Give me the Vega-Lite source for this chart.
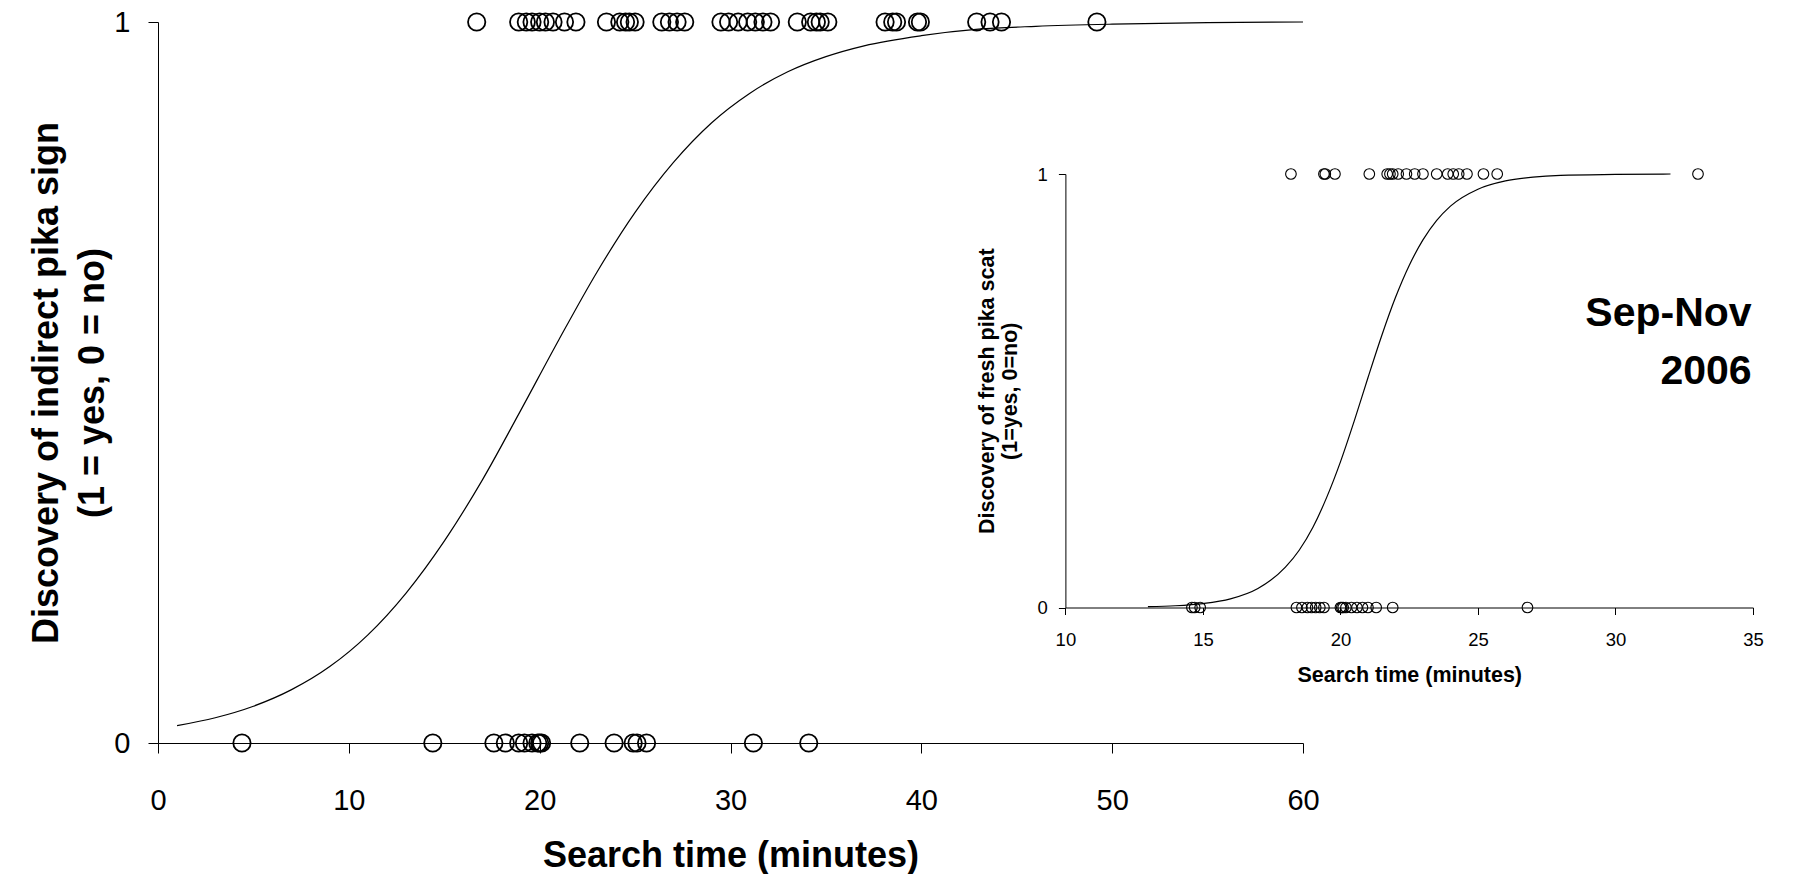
{
  "$schema": "https://vega.github.io/schema/vega-lite/v6.json",
  "width": 1806,
  "height": 874,
  "autosize": {"type": "none"},
  "padding": 0,
  "background": "white",
  "config": {
    "view": {"stroke": null},
    "font": "Liberation Sans",
    "axis": {"grid": false, "domainColor": "#000000", "tickColor": "#000000", "labelColor": "#000000", "titleColor": "#000000", "labelFont": "Liberation Sans", "titleFont": "Liberation Sans", "domainWidth": 1, "tickWidth": 1, "format": "d"}
  },
  "layer": [
    {
      "layer": [
        {
          "data": {"values": [
            {"t": 16.7, "found": 1}, {"t": 18.9, "found": 1}, {"t": 19.3, "found": 1}, {"t": 19.6, "found": 1}, {"t": 20.0, "found": 1}, {"t": 20.3, "found": 1}, {"t": 20.7, "found": 1}, {"t": 21.3, "found": 1}, {"t": 21.9, "found": 1}, {"t": 23.5, "found": 1}, {"t": 24.2, "found": 1}, {"t": 24.5, "found": 1}, {"t": 24.7, "found": 1}, {"t": 25.0, "found": 1}, {"t": 26.4, "found": 1}, {"t": 26.8, "found": 1}, {"t": 27.2, "found": 1}, {"t": 27.6, "found": 1}, {"t": 29.5, "found": 1}, {"t": 29.9, "found": 1}, {"t": 30.4, "found": 1}, {"t": 30.9, "found": 1}, {"t": 31.3, "found": 1}, {"t": 31.7, "found": 1}, {"t": 32.1, "found": 1}, {"t": 33.5, "found": 1}, {"t": 34.2, "found": 1}, {"t": 34.5, "found": 1}, {"t": 34.7, "found": 1}, {"t": 35.1, "found": 1}, {"t": 38.1, "found": 1}, {"t": 38.5, "found": 1}, {"t": 38.7, "found": 1}, {"t": 39.8, "found": 1}, {"t": 39.95, "found": 1}, {"t": 42.9, "found": 1}, {"t": 43.6, "found": 1}, {"t": 44.2, "found": 1}, {"t": 49.2, "found": 1},
            {"t": 4.4, "found": 0}, {"t": 14.4, "found": 0}, {"t": 17.6, "found": 0}, {"t": 18.2, "found": 0}, {"t": 18.9, "found": 0}, {"t": 19.2, "found": 0}, {"t": 19.6, "found": 0}, {"t": 19.9, "found": 0}, {"t": 20.0, "found": 0}, {"t": 20.1, "found": 0}, {"t": 22.1, "found": 0}, {"t": 23.9, "found": 0}, {"t": 24.9, "found": 0}, {"t": 25.1, "found": 0}, {"t": 25.6, "found": 0}, {"t": 31.2, "found": 0}, {"t": 34.1, "found": 0}
          ]},
          "mark": {"type": "point", "shape": "circle", "filled": false, "color": "#000000", "strokeWidth": 1.8, "size": 300, "opacity": 1},
          "encoding": {
            "x": {"field": "t", "type": "quantitative", "scale": {"domain": [0, 60], "range": [158, 1303], "nice": false, "zero": false},
              "axis": {"orient": "bottom", "offset": -131, "values": [0, 10, 20, 30, 40, 50, 60], "format": "d", "tickSize": 10, "labelFontSize": 29, "labelPadding": 33, "labelFlush": false, "labelOverlap": false, "title": "Search time (minutes)", "titleFontSize": 36, "titleFontWeight": "bold", "titlePadding": 23}},
            "y": {"field": "found", "type": "quantitative", "scale": {"domain": [0, 1], "range": [743, 22], "nice": false, "zero": false},
              "axis": {"orient": "left", "offset": -158, "values": [0, 1], "format": "d", "tickSize": 10, "labelFontSize": 29, "labelPadding": 18, "labelFlush": false, "labelOverlap": false, "title": ["Discovery of indirect pika sign", "(1 = yes, 0 = no)"], "titleFontSize": 36, "titleFontWeight": "bold", "titleLineHeight": 46, "titlePadding": 2}}
          }
        },
        {
          "data": {"values": [
            {"t": 1, "p": 0.024}, {"t": 3, "p": 0.035}, {"t": 5, "p": 0.051}, {"t": 7, "p": 0.074}, {"t": 9, "p": 0.106}, {"t": 11, "p": 0.150}, {"t": 13, "p": 0.208}, {"t": 15, "p": 0.280}, {"t": 17, "p": 0.365}, {"t": 19, "p": 0.461}, {"t": 21, "p": 0.559}, {"t": 23, "p": 0.653}, {"t": 25, "p": 0.736}, {"t": 27, "p": 0.805}, {"t": 29, "p": 0.860}, {"t": 31, "p": 0.901}, {"t": 33, "p": 0.931}, {"t": 35, "p": 0.952}, {"t": 37, "p": 0.967}, {"t": 40, "p": 0.981}, {"t": 43, "p": 0.990}, {"t": 46, "p": 0.994}, {"t": 50, "p": 0.997}, {"t": 55, "p": 0.999}, {"t": 60, "p": 1.0}
          ]},
          "mark": {"type": "line", "color": "#000000", "strokeWidth": 1.2, "interpolate": "monotone"},
          "encoding": {
            "x": {"field": "t", "type": "quantitative"},
            "y": {"field": "p", "type": "quantitative"}
          }
        }
      ]
    },
    {
      "layer": [
        {
          "data": {"values": [
            {"t": 18.2, "found": 1}, {"t": 19.4, "found": 1}, {"t": 19.45, "found": 1}, {"t": 19.8, "found": 1}, {"t": 21.05, "found": 1}, {"t": 21.7, "found": 1}, {"t": 21.8, "found": 1}, {"t": 21.9, "found": 1}, {"t": 22.1, "found": 1}, {"t": 22.4, "found": 1}, {"t": 22.7, "found": 1}, {"t": 23.0, "found": 1}, {"t": 23.5, "found": 1}, {"t": 23.9, "found": 1}, {"t": 24.1, "found": 1}, {"t": 24.3, "found": 1}, {"t": 24.6, "found": 1}, {"t": 25.2, "found": 1}, {"t": 25.7, "found": 1}, {"t": 33.0, "found": 1},
            {"t": 14.6, "found": 0}, {"t": 14.7, "found": 0}, {"t": 14.9, "found": 0}, {"t": 18.4, "found": 0}, {"t": 18.6, "found": 0}, {"t": 18.8, "found": 0}, {"t": 18.95, "found": 0}, {"t": 19.1, "found": 0}, {"t": 19.25, "found": 0}, {"t": 19.4, "found": 0}, {"t": 20.0, "found": 0}, {"t": 20.05, "found": 0}, {"t": 20.1, "found": 0}, {"t": 20.2, "found": 0}, {"t": 20.4, "found": 0}, {"t": 20.6, "found": 0}, {"t": 20.8, "found": 0}, {"t": 21.0, "found": 0}, {"t": 21.3, "found": 0}, {"t": 21.9, "found": 0}, {"t": 26.8, "found": 0}
          ]},
          "mark": {"type": "point", "shape": "circle", "filled": false, "color": "#000000", "strokeWidth": 1.1, "size": 113, "opacity": 1},
          "encoding": {
            "x": {"field": "t", "type": "quantitative", "scale": {"domain": [10, 35], "range": [1065.4, 1753], "nice": false, "zero": false},
              "axis": {"orient": "bottom", "offset": -266.5, "values": [10, 15, 20, 25, 30, 35], "format": "d", "tickSize": 7, "labelFontSize": 18.5, "labelPadding": 16, "labelFlush": false, "labelOverlap": false, "title": "Search time (minutes)", "titleFontSize": 21.5, "titleFontWeight": "bold", "titlePadding": 15}},
            "y": {"field": "found", "type": "quantitative", "scale": {"domain": [0, 1], "range": [607.5, 174], "nice": false, "zero": false},
              "axis": {"orient": "left", "offset": -1065.4, "values": [0, 1], "format": "d", "tickSize": 7, "labelFontSize": 18.5, "labelPadding": 11, "labelFlush": false, "labelOverlap": false, "title": ["Discovery of fresh pika scat", "(1=yes, 0=no)"], "titleFontSize": 21.5, "titleFontWeight": "bold", "titleLineHeight": 23, "titlePadding": 16}}
          }
        },
        {
          "data": {"values": [
            {"t": 13, "p": 0.002}, {"t": 14, "p": 0.004}, {"t": 15, "p": 0.009}, {"t": 16, "p": 0.020}, {"t": 17, "p": 0.044}, {"t": 18, "p": 0.093}, {"t": 18.5, "p": 0.132}, {"t": 19, "p": 0.185}, {"t": 19.5, "p": 0.254}, {"t": 20, "p": 0.336}, {"t": 20.5, "p": 0.430}, {"t": 21, "p": 0.530}, {"t": 21.5, "p": 0.627}, {"t": 22, "p": 0.715}, {"t": 22.5, "p": 0.789}, {"t": 23, "p": 0.848}, {"t": 23.5, "p": 0.893}, {"t": 24, "p": 0.926}, {"t": 25, "p": 0.965}, {"t": 26, "p": 0.984}, {"t": 27, "p": 0.993}, {"t": 28, "p": 0.997}, {"t": 30, "p": 0.999}, {"t": 32, "p": 1.0}
          ]},
          "mark": {"type": "line", "color": "#000000", "strokeWidth": 1.2, "interpolate": "monotone"},
          "encoding": {
            "x": {"field": "t", "type": "quantitative"},
            "y": {"field": "p", "type": "quantitative"}
          }
        },
        {
          "data": {"values": [{"label": "Sep-Nov 2006"}]},
          "mark": {"type": "text", "text": ["Sep-Nov", "2006"], "font": "Liberation Sans", "fontSize": 41, "fontWeight": "bold", "lineHeight": 58, "align": "right", "baseline": "middle", "color": "#000000"},
          "encoding": {
            "x": {"datum": 34.95, "type": "quantitative"},
            "y": {"datum": 0.677, "type": "quantitative"}
          }
        }
      ]
    }
  ],
  "resolve": {"scale": {"x": "independent", "y": "independent"}, "axis": {"x": "independent", "y": "independent"}}
}
